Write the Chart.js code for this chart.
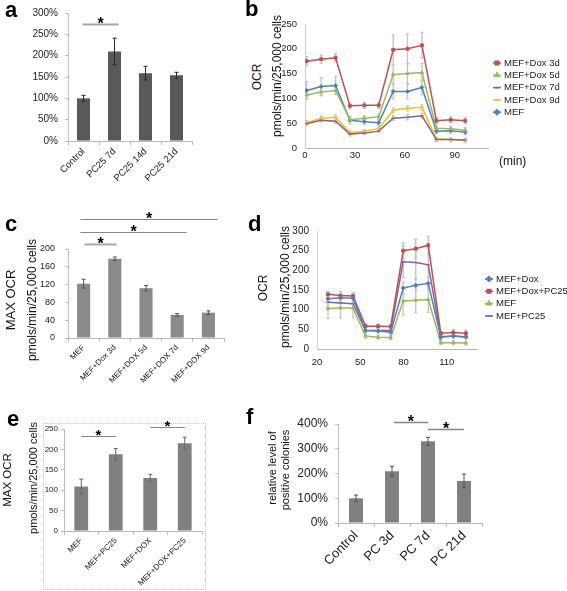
<!DOCTYPE html>
<html>
<head>
<meta charset="utf-8">
<script src="https://cdn.jsdelivr.net/npm/chart.js@4.4.0/dist/chart.umd.min.js"></script>
<style>
  body { margin: 0; width: 567px; height: 591px; background: #fff; position: relative; overflow: hidden;
         font-family: "Liberation Sans", Arial, sans-serif; color: #111; }
  canvas { position: absolute; }
  .tag { position: absolute; font-weight: bold; font-size: 22px; line-height: 1; color: #000; }
  .vt { position: absolute; transform: translate(-50%, -50%) rotate(-90deg); white-space: nowrap; line-height: 1; color: #111; }
  .frame { position: absolute; left: 43px; top: 423px; width: 161px; height: 165px; border: 1px dotted #c8c8c8; }
</style>
</head>
<body>
<div class="frame"></div>

<canvas id="ca" width="210" height="190" style="left:0;top:0"></canvas>
<canvas id="cb" width="297" height="172" style="left:270px;top:0"></canvas>
<canvas id="cc" width="235" height="180" style="left:0;top:205px"></canvas>
<canvas id="cd" width="287" height="160" style="left:280px;top:215px"></canvas>
<canvas id="ce" width="215" height="186" style="left:0;top:405px"></canvas>
<canvas id="cf" width="230" height="191" style="left:285px;top:400px"></canvas>

<div class="tag" style="left:5px;top:-1px">a</div>
<div class="tag" style="left:245px;top:-2px">b</div>
<div class="tag" style="left:5px;top:213px">c</div>
<div class="tag" style="left:248px;top:213px">d</div>
<div class="tag" style="left:7px;top:408px">e</div>
<div class="tag" style="left:246px;top:406px">f</div>

<div class="vt" style="left:257px;top:77px;font-size:12px">OCR</div>
<div class="vt" style="left:277px;top:76px;font-size:12px">pmols/min/25,000 cells</div>
<div style="position:absolute;left:499px;top:155px;font-size:12px;line-height:1">(min)</div>

<div class="vt" style="left:10px;top:300px;font-size:13px">MAX OCR</div>
<div class="vt" style="left:32px;top:300px;font-size:12px">pmols/min/25,000 cells</div>

<div class="vt" style="left:263px;top:288px;font-size:12px">OCR</div>
<div class="vt" style="left:285px;top:287px;font-size:12px">pmols/min/25,000 cells</div>

<div class="vt" style="left:8px;top:480px;font-size:11.5px">MAX OCR</div>
<div class="vt" style="left:33px;top:478px;font-size:11px">pmols/min/25,000 cells</div>

<div class="vt" style="left:272px;top:468px;font-size:11px">relative level of</div>
<div class="vt" style="left:285px;top:470px;font-size:11px">positive colonies</div>

<script>
/* ===== data ===== */
const aLabels = ["Control", "PC25 7d", "PC25 14d", "PC25 21d"];
const aValues = [100, 210, 159, 154];
const aErrors = [7, 31, 16, 7];
const aSig = [[0, 1]];

const bTicks = [0, 30, 60, 90];
const bTimes = [1, 9.7, 18.4, 27, 35.7, 44.3, 53, 61.6, 70.3, 79, 87.6, 96.3];
const bNames = ["MEF+Dox 3d", "MEF+Dox 5d", "MEF+Dox 7d", "MEF+Dox 9d", "MEF"];
const bDox3d = [175, 179, 182, 85, 86, 86, 198, 200, 207, 55, 57, 55];
const bDox5d = [107, 113, 116, 57, 60, 63, 148, 150, 152, 40, 39, 36];
const bDox7d = [49, 56, 54, 28, 30, 34, 60, 62, 65, 17, 17, 16];
const bDox9d = [51, 60, 62, 31, 34, 39, 76, 80, 82, 18, 17, 15];
const bMef = [116, 124, 126, 56, 53, 51, 114, 114, 122, 34, 35, 32];
const bDox3dErr = [9, 8, 8, 6, 6, 6, 30, 30, 26, 6, 6, 6];
const bDox5dErr = [8, 8, 8, 5, 5, 5, 20, 20, 18, 5, 5, 5];
const bDox7dErr = [4, 4, 4, 4, 3, 3, 5, 5, 5, 4, 4, 4];
const bDox9dErr = [4, 4, 4, 3, 3, 3, 5, 5, 5, 4, 4, 4];
const bMefErr = [18, 18, 18, 8, 6, 6, 15, 15, 15, 5, 5, 5];

const cLabels = ["MEF", "MEF+Dox 3d", "MEF+DOX 5d", "MEF+DOX 7d", "MEF+DOX 9d"];
const cValues = [122, 178, 112, 52, 57];
const cErrors = [10, 4, 6, 3, 4];
const cSig = [[0, 4], [0, 3], [0, 1]];

const dTicks = [20, 50, 80, 110];
const dTimes = [27.6, 36.3, 45, 53.7, 62.4, 71.1, 79.8, 88.5, 97.2, 105.9, 114.6, 123.3];
const dNames = ["MEF+Dox", "MEF+Dox+PC25", "MEF", "MEF+PC25"];
const dDox = [128, 130, 129, 47, 46, 43, 155, 162, 167, 30, 33, 31];
const dDoxPc = [139, 136, 135, 58, 58, 57, 250, 255, 264, 40, 42, 40];
const dMef = [103, 104, 104, 33, 30, 29, 122, 124, 126, 16, 16, 15];
const dPc = [119, 117, 115, 47, 47, 47, 222, 220, 214, 31, 33, 30];
const dDoxErr = [8, 8, 8, 5, 5, 5, 15, 15, 15, 5, 5, 5];
const dDoxPcErr = [8, 10, 8, 5, 5, 5, 20, 24, 22, 5, 8, 8];
const dMefErr = [25, 25, 25, 6, 5, 5, 35, 32, 33, 5, 5, 5];
const dPcErr = [10, 10, 10, 5, 5, 5, 40, 40, 45, 5, 5, 5];

const eLabels = ["MEF", "MEF+PC25", "MEF+DOX", "MEF+DOX+PC25"];
const eValues = [109, 188, 130, 215];
const eErrors = [18, 14, 9, 15];
const eSig = [[0, 1], [2, 3]];

const fLabels = ["Control", "PC 3d", "PC 7d", "PC 21d"];
const fValues = [100, 209, 330, 170];
const fErrors = [13, 20, 16, 28];
const fSig = [[1, 2], [2, 3]];

/* ===== Chart.js setup ===== */
const FONT = '"Liberation Sans", Arial, sans-serif';
Chart.defaults.font.family = FONT;
Chart.defaults.color = "#222";
Chart.defaults.animation = false;
Chart.defaults.plugins.legend.display = false;
Chart.defaults.plugins.tooltip.enabled = false;

// pin an axis to a fixed thickness so the plot area lands where the figure has it
function fixed(size) {
  return s => {
    if (s.isHorizontal()) s.height = size; else s.width = size;
    s.paddingLeft = s.paddingRight = s.paddingTop = s.paddingBottom = 0;
  };
}

function drawErrors(chart, o) {
  const ctx = chart.ctx, y = chart.scales.y;
  chart.data.datasets.forEach((ds, di) => {
    if (!ds.errors) return;
    const meta = chart.getDatasetMeta(di);
    ctx.save();
    ctx.strokeStyle = o.color;
    ctx.lineWidth = o.width;
    meta.data.forEach((el, i) => {
      const raw = ds.data[i];
      const v = typeof raw === "object" ? raw.y : raw;
      const e = ds.errors[i];
      const x = el.x, y1 = y.getPixelForValue(v - e), y2 = y.getPixelForValue(v + e);
      ctx.beginPath();
      ctx.moveTo(x, y1); ctx.lineTo(x, y2);
      ctx.moveTo(x - o.cap, y1); ctx.lineTo(x + o.cap, y1);
      ctx.moveTo(x - o.cap, y2); ctx.lineTo(x + o.cap, y2);
      ctx.stroke();
    });
    ctx.restore();
  });
}

const errorBars = {
  id: "errorBars",
  beforeDatasetsDraw(chart, args, o) { if (o.behind) drawErrors(chart, o); },
  afterDatasetsDraw(chart, args, o) { if (!o.behind) drawErrors(chart, o); },
};

const sigMarks = {
  id: "sigMarks",
  afterDraw(chart, args, o) {
    if (!o.pairs) return;
    const ctx = chart.ctx, xs = chart.scales.x, ys = chart.scales.y;
    const x0 = xs.getPixelForValue(0), step = xs.getPixelForValue(1) - x0;
    ctx.save();
    ctx.font = "bold " + o.size + "px " + FONT;
    ctx.textAlign = "center";
    o.pairs.forEach((p, i) => {
      const ext = o.ext ? o.ext[i] : [0, 0];
      const xa = x0 + (p[0] + ext[0]) * step, xb = x0 + (p[1] + ext[1]) * step;
      const yy = Math.round(ys.getPixelForValue(o.levels[i])) + 0.5;
      ctx.strokeStyle = o.colors ? o.colors[i] : o.color;
      ctx.lineWidth = o.widths ? o.widths[i] : o.width;
      ctx.beginPath(); ctx.moveTo(xa, yy); ctx.lineTo(xb, yy); ctx.stroke();
      const m = ctx.measureText("*");
      ctx.fillStyle = "#000";
      ctx.fillText("*", (xa + xb) / 2, yy - 1 - m.actualBoundingBoxDescent);
    });
    ctx.restore();
  },
};

const sideLegend = {
  id: "sideLegend",
  afterDraw(chart, args, o) {
    if (o.dx === undefined) return;
    const ctx = chart.ctx, a = chart.chartArea;
    ctx.save();
    ctx.font = o.size + "px " + FONT;
    ctx.textBaseline = "middle";
    chart.data.datasets.forEach((ds, i) => {
      const x = a.right + o.dx, y = a.top + o.dy + i * o.gap;
      ctx.strokeStyle = ds.borderColor;
      ctx.fillStyle = ds.borderColor;
      ctx.lineWidth = 1.5;
      ctx.beginPath(); ctx.moveTo(x, y); ctx.lineTo(x + o.len, y); ctx.stroke();
      Chart.helpers.drawPoint(ctx, { pointStyle: ds.pointStyle, radius: 2.5, borderWidth: 1, rotation: 0 }, x + o.len / 2, y);
      ctx.fillStyle = "#222";
      ctx.fillText(ds.label, x + o.len + 3, y);
    });
    ctx.restore();
  },
};

function barChart(id, labels, values, errors, o) {
  return new Chart(document.getElementById(id), {
    type: "bar",
    data: {
      labels,
      datasets: [{ data: values, errors, backgroundColor: o.color, categoryPercentage: 1, barPercentage: o.bar }],
    },
    options: {
      responsive: false,
      layout: { padding: o.pad },
      scales: {
        x: {
          grid: { offset: true, drawOnChartArea: false, tickLength: 4, color: "#c0c0c0" },
          border: { color: "#b8b8b8" },
          ticks: { minRotation: 45, maxRotation: 45, autoSkip: false, padding: 1, color: "#222", font: { size: o.xFont } },
          afterFit: fixed(o.h),
        },
        y: {
          min: 0, max: o.max,
          grid: { drawOnChartArea: false, tickLength: 3, color: "#c0c0c0" },
          border: { color: "#c0c0c0" },
          ticks: { stepSize: o.step, padding: o.yPad, color: "#222", font: { size: o.yFont },
                   callback: v => o.pct ? v + "%" : v },
          afterFit: fixed(o.w),
        },
      },
      plugins: {
        errorBars: { color: o.errColor, width: 1, cap: 2 },
        sigMarks: o.sig,
      },
    },
    plugins: [errorBars, sigMarks],
  });
}

function lineSet(label, times, values, errors, color, style) {
  return {
    label, errors,
    data: times.map((t, i) => ({ x: t, y: values[i] })),
    borderColor: color, backgroundColor: color, borderWidth: 1.5,
    pointStyle: style, pointRadius: 2, pointBorderWidth: 1, tension: 0,
  };
}

function lineChart(id, datasets, o) {
  return new Chart(document.getElementById(id), {
    type: "line",
    data: { datasets },
    options: {
      responsive: false,
      layout: { padding: o.pad },
      scales: {
        x: {
          type: "linear", min: o.xmin, max: o.xmax,
          grid: { display: false, drawTicks: false, tickLength: 0 },
          border: { color: "#b8b8b8" },
          ticks: { color: "#222", font: { size: o.xFont }, padding: o.xPad },
          afterBuildTicks: s => { s.ticks = o.ticks.map(v => ({ value: v })); },
          afterFit: fixed(o.h),
        },
        y: {
          min: 0, max: o.max,
          grid: { display: false, drawTicks: false, tickLength: 0 },
          border: { color: "#d0d0d0" },
          ticks: { stepSize: 50, color: "#222", font: { size: o.yFont }, padding: 8 },
          afterFit: fixed(o.w),
        },
      },
      plugins: {
        errorBars: { color: "#c4c4c4", width: 1.3, cap: 1.5, behind: true },
        sideLegend: o.legend,
      },
    },
    plugins: [errorBars, sideLegend],
  });
}

/* ===== panels ===== */
barChart("ca", aLabels, aValues, aErrors, {
  color: "#595959", bar: 0.42, max: 300, step: 50, pct: true, xFont: 9.5, yFont: 10, yPad: 7,
  w: 68, h: 49, pad: { left: 0, top: 13, right: 18, bottom: 0 }, errColor: "#2a2a2a",
  sig: { pairs: aSig, levels: [274], ext: [[-0.03, 0.13]], color: "#a6a6a6", width: 2, size: 16 },
});

lineChart("cb", [
  lineSet(bNames[0], bTimes, bDox3d, bDox3dErr, "#c0504d", "rect"),
  lineSet(bNames[1], bTimes, bDox5d, bDox5dErr, "#9bbb59", "triangle"),
  lineSet(bNames[2], bTimes, bDox7d, bDox7dErr, "#8064a2", "line"),
  lineSet(bNames[3], bTimes, bDox9d, bDox9dErr, "#ffc000", "line"),
  lineSet(bNames[4], bTimes, bMef, bMefErr, "#4f81bd", "rectRot"),
], {
  xmin: 0, xmax: 110, ticks: bTicks, max: 250, xFont: 9.5, yFont: 9.5, xPad: 2,
  w: 35, h: 24, pad: { left: 0, top: 24, right: 79, bottom: 0 },
  legend: { dx: 5, dy: 39, gap: 12.3, len: 8, size: 9.5 },
});

barChart("cc", cLabels, cValues, cErrors, {
  color: "#8a8a8a", bar: 0.42, max: 200, step: 40, pct: false, xFont: 8, yFont: 9, yPad: 10,
  w: 68, h: 47, pad: { left: 0, top: 44, right: 11, bottom: 0 }, errColor: "#555",
  sig: { pairs: cSig, levels: [267, 238, 211], ext: [[-0.1, 0.3], [-0.1, 0.3], [0.03, 0.06]],
         colors: ["#888", "#888", "#aaa"], widths: [1, 1, 2], size: 16 },
});

lineChart("cd", [
  lineSet(dNames[0], dTimes, dDox, dDoxErr, "#4f81bd", "rectRot"),
  lineSet(dNames[1], dTimes, dDoxPc, dDoxPcErr, "#c0504d", "rect"),
  lineSet(dNames[2], dTimes, dMef, dMefErr, "#9bbb59", "triangle"),
  lineSet(dNames[3], dTimes, dPc, dPcErr, "#8064a2", "line"),
], {
  xmin: 20, xmax: 131, ticks: dTicks, max: 300, xFont: 9.5, yFont: 10, xPad: 8,
  w: 37, h: 26, pad: { left: 0, top: 16, right: 90, bottom: 0 },
  legend: { dx: 8, dy: 48, gap: 12.3, len: 8, size: 9.5 },
});

barChart("ce", eLabels, eValues, eErrors, {
  color: "#808080", bar: 0.4, max: 250, step: 50, pct: false, xFont: 8, yFont: 8, yPad: 3,
  w: 64, h: 60, pad: { left: 0, top: 24, right: 13, bottom: 0 }, errColor: "#666",
  sig: { pairs: eSig, levels: [233, 255], color: "#888", width: 1.2, size: 15 },
});

barChart("cf", fLabels, fValues, fErrors, {
  color: "#808080", bar: 0.39, max: 400, step: 50, pct: true, xFont: 13, yFont: 12, yPad: 7,
  w: 53, h: 68, pad: { left: 0, top: 24, right: 33, bottom: 0 }, errColor: "#555",
  sig: { pairs: fSig, levels: [408, 380], ext: [[0.05, 0], [0, 0]], color: "#888", width: 1.5, size: 16 },
});
</script>
</body>
</html>
